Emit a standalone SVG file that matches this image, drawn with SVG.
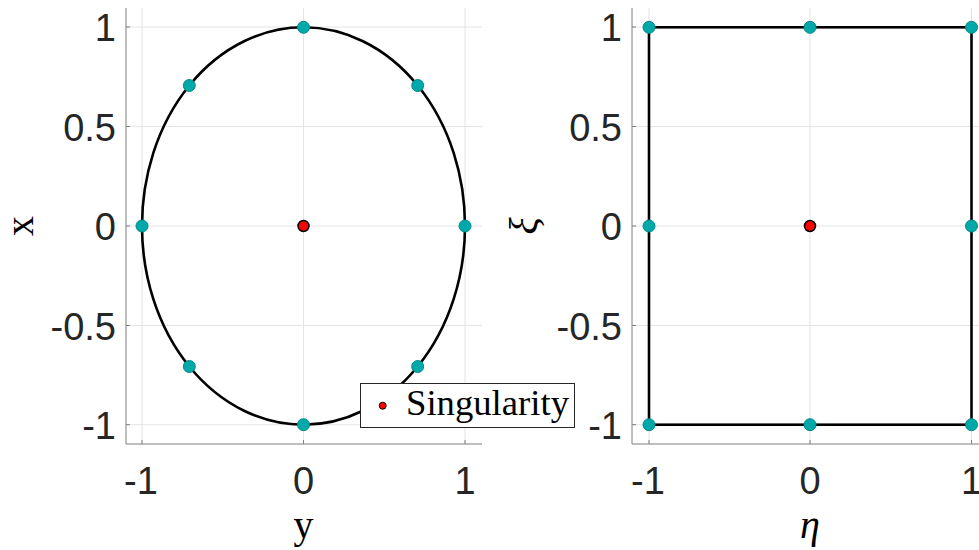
<svg xmlns="http://www.w3.org/2000/svg" width="979" height="550" viewBox="0 0 979 550">
<style>
.grid{stroke:#e4e4e4;stroke-width:1;fill:none}
.axis{stroke:#7f7f7f;stroke-width:1;fill:none}
.tick{font-family:"Liberation Sans",Arial,Helvetica,sans-serif;font-size:38px;fill:#262626}
.lbl{font-family:"Liberation Serif","DejaVu Serif",serif;font-size:40px;fill:#000}
.curve{stroke:#000;stroke-width:2.6;fill:none}
.pt{fill:#00a9a9;stroke:#008b8b;stroke-width:1}
.sing{fill:#ff0000;stroke:#000;stroke-width:1.5}
</style>
<rect width="979" height="550" fill="#fff"/>
<g id="left-plot">
  <g id="left-grid">
    <path class="grid" d="M142,8V444M303.5,8V444M465,8V444M126,27H482M126,126.5H482M126,226H482M126,325.5H482M126,424.7H482"/>
  </g>
  <g id="left-axes">
    <path class="axis" d="M126,8V444H482"/>
    <path class="axis" d="M126,27h4M126,126.5h4M126,226h4M126,325.5h4M126,424.7h4M142,444v-4M303.5,444v-4M465,444v-4"/>
  </g>
  <g id="left-ticklabels" class="tick">
    <text x="116" y="41" text-anchor="end">1</text>
    <text x="116" y="140.5" text-anchor="end">0.5</text>
    <text x="116" y="240" text-anchor="end">0</text>
    <text x="116" y="339.5" text-anchor="end">-0.5</text>
    <text x="116" y="439" text-anchor="end">-1</text>
    <text x="141" y="494" text-anchor="middle">-1</text>
    <text x="303.5" y="494" text-anchor="middle">0</text>
    <text x="465" y="494" text-anchor="middle">1</text>
  </g>
  <g id="left-labels" class="lbl">
    <text transform="translate(33,226) rotate(-90)" text-anchor="middle">x</text>
    <text x="303.5" y="538" text-anchor="middle">y</text>
  </g>
  <g id="connectors-left">
    <ellipse class="curve" cx="303.5" cy="226" rx="161.5" ry="198.7"/>
  </g>
  <g id="left-nodes">
    <circle class="pt" cx="303.5" cy="27.3" r="6"/>
    <circle class="pt" cx="417.7" cy="85.5" r="6"/>
    <circle class="pt" cx="465" cy="226" r="6"/>
    <circle class="pt" cx="417.7" cy="366.5" r="6"/>
    <circle class="pt" cx="303.5" cy="424.7" r="6"/>
    <circle class="pt" cx="189.3" cy="366.5" r="6"/>
    <circle class="pt" cx="142" cy="226" r="6"/>
    <circle class="pt" cx="189.3" cy="85.5" r="6"/>
    <circle class="sing" cx="303.5" cy="226" r="5.5"/>
  </g>
</g>
<g id="right-plot">
  <g id="right-grid">
    <path class="grid" d="M649,8V444M810,8V444M971.5,8V444M632,27H979M632,126.5H979M632,226H979M632,325.5H979M632,424.7H979"/>
  </g>
  <g id="right-axes">
    <path class="axis" d="M632,8V444H979"/>
    <path class="axis" d="M632,27h4M632,126.5h4M632,226h4M632,325.5h4M632,424.7h4M649,444v-4M810,444v-4M971.5,444v-4"/>
  </g>
  <g id="right-ticklabels" class="tick">
    <text x="622" y="41" text-anchor="end">1</text>
    <text x="622" y="140.5" text-anchor="end">0.5</text>
    <text x="622" y="240" text-anchor="end">0</text>
    <text x="622" y="339.5" text-anchor="end">-0.5</text>
    <text x="622" y="439" text-anchor="end">-1</text>
    <text x="648" y="494" text-anchor="middle">-1</text>
    <text x="810" y="494" text-anchor="middle">0</text>
    <text x="971.5" y="494" text-anchor="middle">1</text>
  </g>
  <g id="right-labels" class="lbl" font-style="italic">
    <text transform="translate(537,226) rotate(-90)" text-anchor="middle">ξ</text>
    <text x="810" y="538" text-anchor="middle">η</text>
  </g>
  <g id="connectors-right">
    <rect class="curve" x="649" y="27.3" width="322.5" height="397.4"/>
  </g>
  <g id="right-nodes">
    <circle class="pt" cx="649" cy="27.3" r="6"/>
    <circle class="pt" cx="810" cy="27.3" r="6"/>
    <circle class="pt" cx="971.5" cy="27.3" r="6"/>
    <circle class="pt" cx="971.5" cy="226" r="6"/>
    <circle class="pt" cx="971.5" cy="424.7" r="6"/>
    <circle class="pt" cx="810" cy="424.7" r="6"/>
    <circle class="pt" cx="649" cy="424.7" r="6"/>
    <circle class="pt" cx="649" cy="226" r="6"/>
    <circle class="sing" cx="810" cy="226" r="5.5"/>
  </g>
</g>
<g id="legend">
  <rect x="360.5" y="383.5" width="214" height="44" fill="#fff" stroke="#262626" stroke-width="1"/>
  <circle cx="382.7" cy="405.7" r="3.5" fill="#ff0000" stroke="#000" stroke-width="1"/>
  <text class="lbl" x="406" y="415" style="font-size:35px" textLength="163" lengthAdjust="spacingAndGlyphs">Singularity</text>
</g>
</svg>
